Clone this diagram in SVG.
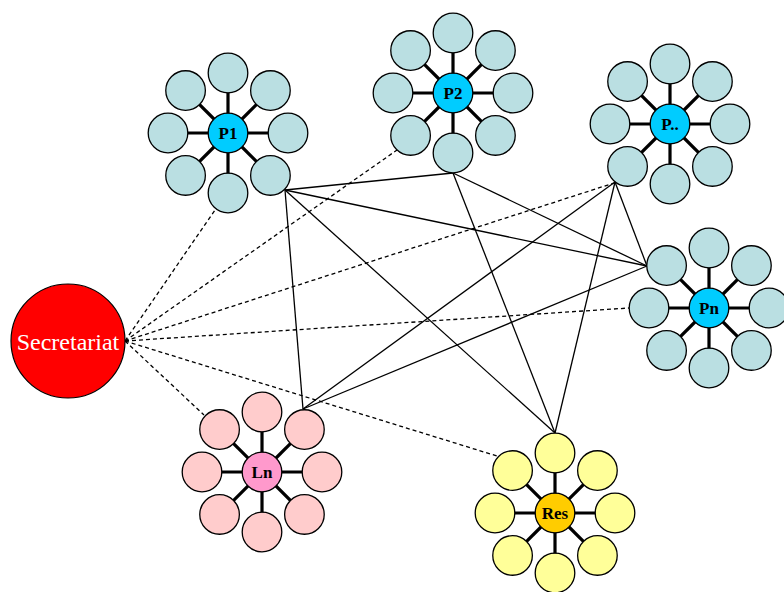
<svg xmlns="http://www.w3.org/2000/svg" xmlns:xlink="http://www.w3.org/1999/xlink" width="784" height="592" viewBox="0 0 784 592">
<style>
  .conn { stroke: #000; stroke-width: 1.3; fill: none; }
  .dash { stroke: #000; stroke-width: 1.3; fill: none; stroke-dasharray: 4 3; }
  .spoke { stroke: #000; stroke-width: 3.2; }
  .ring { stroke: #000; stroke-width: 1.3; }
  .lbl { font-family: "Liberation Serif", "Times New Roman", serif; font-weight: bold; font-size: 17px; text-anchor: middle; fill: #000; }
  .sec { font-family: "Liberation Serif", "Times New Roman", serif; font-size: 24px; text-anchor: middle; fill: #fff; }
</style>
<defs>
  <g id="spokes">
    <line class="spoke" x1="0" y1="0" x2="0" y2="-60"/>
    <line class="spoke" x1="0" y1="0" x2="42.43" y2="-42.43"/>
    <line class="spoke" x1="0" y1="0" x2="60" y2="0"/>
    <line class="spoke" x1="0" y1="0" x2="42.43" y2="42.43"/>
    <line class="spoke" x1="0" y1="0" x2="0" y2="60"/>
    <line class="spoke" x1="0" y1="0" x2="-42.43" y2="42.43"/>
    <line class="spoke" x1="0" y1="0" x2="-60" y2="0"/>
    <line class="spoke" x1="0" y1="0" x2="-42.43" y2="-42.43"/>
  </g>
  <g id="petals">
    <circle class="ring" cx="0" cy="-60" r="19.8"/>
    <circle class="ring" cx="42.43" cy="-42.43" r="19.8"/>
    <circle class="ring" cx="60" cy="0" r="19.8"/>
    <circle class="ring" cx="42.43" cy="42.43" r="19.8"/>
    <circle class="ring" cx="0" cy="60" r="19.8"/>
    <circle class="ring" cx="-42.43" cy="42.43" r="19.8"/>
    <circle class="ring" cx="-60" cy="0" r="19.8"/>
    <circle class="ring" cx="-42.43" cy="-42.43" r="19.8"/>
  </g>
</defs>
<rect width="784" height="592" fill="#fff"/>
<g id="connectors">
  <line class="dash" x1="125" y1="341" x2="215" y2="210"/>
  <line class="dash" x1="125" y1="341" x2="397" y2="150"/>
  <line class="dash" x1="125" y1="341" x2="614" y2="183"/>
  <line class="dash" x1="125" y1="341" x2="629" y2="308"/>
  <line class="dash" x1="125" y1="341" x2="204" y2="415"/>
  <line class="dash" x1="125" y1="341" x2="497" y2="456"/>
  <line class="conn" x1="285" y1="190" x2="453" y2="173"/>
  <line class="conn" x1="285" y1="190" x2="647" y2="266"/>
  <line class="conn" x1="285" y1="190" x2="303" y2="409"/>
  <line class="conn" x1="285" y1="190" x2="555" y2="433"/>
  <line class="conn" x1="453" y1="173" x2="647" y2="266"/>
  <line class="conn" x1="453" y1="173" x2="555" y2="433"/>
  <line class="conn" x1="615" y1="182" x2="647" y2="266"/>
  <line class="conn" x1="615" y1="182" x2="303" y2="409"/>
  <line class="conn" x1="615" y1="182" x2="555" y2="433"/>
  <line class="conn" x1="303" y1="409" x2="647" y2="266"/>
</g>
<g id="secretariat">
  <circle cx="68" cy="341" r="57" fill="#FF0000" stroke="#000" stroke-width="1.2"/>
  <text class="sec" x="68" y="349.5">Secretariat</text>
</g>
<g id="P1" transform="translate(228,133)">
  <use xlink:href="#spokes"/>
  <use xlink:href="#petals" fill="#BADFE2"/>
  <circle class="ring" r="19.8" fill="#00CCFF"/>
  <text class="lbl" y="6">P1</text>
</g>
<g id="P2" transform="translate(453,93)">
  <use xlink:href="#spokes"/>
  <use xlink:href="#petals" fill="#BADFE2"/>
  <circle class="ring" r="19.8" fill="#00CCFF"/>
  <text class="lbl" y="6">P2</text>
</g>
<g id="Pdots" transform="translate(670,124)">
  <use xlink:href="#spokes"/>
  <use xlink:href="#petals" fill="#BADFE2"/>
  <circle class="ring" r="19.8" fill="#00CCFF"/>
  <text class="lbl" y="6">P..</text>
</g>
<g id="Pn" transform="translate(709,308)">
  <use xlink:href="#spokes"/>
  <use xlink:href="#petals" fill="#BADFE2"/>
  <circle class="ring" r="19.8" fill="#00CCFF"/>
  <text class="lbl" y="6">Pn</text>
</g>
<g id="Ln" transform="translate(262,472)">
  <use xlink:href="#spokes"/>
  <use xlink:href="#petals" fill="#FFCCCC"/>
  <circle class="ring" r="19.8" fill="#FF99CC"/>
  <text class="lbl" y="6">Ln</text>
</g>
<g id="Res" transform="translate(555,513)">
  <use xlink:href="#spokes"/>
  <use xlink:href="#petals" fill="#FFFF99"/>
  <circle class="ring" r="19.8" fill="#FFCC00"/>
  <text class="lbl" y="6">Res</text>
</g>
</svg>
